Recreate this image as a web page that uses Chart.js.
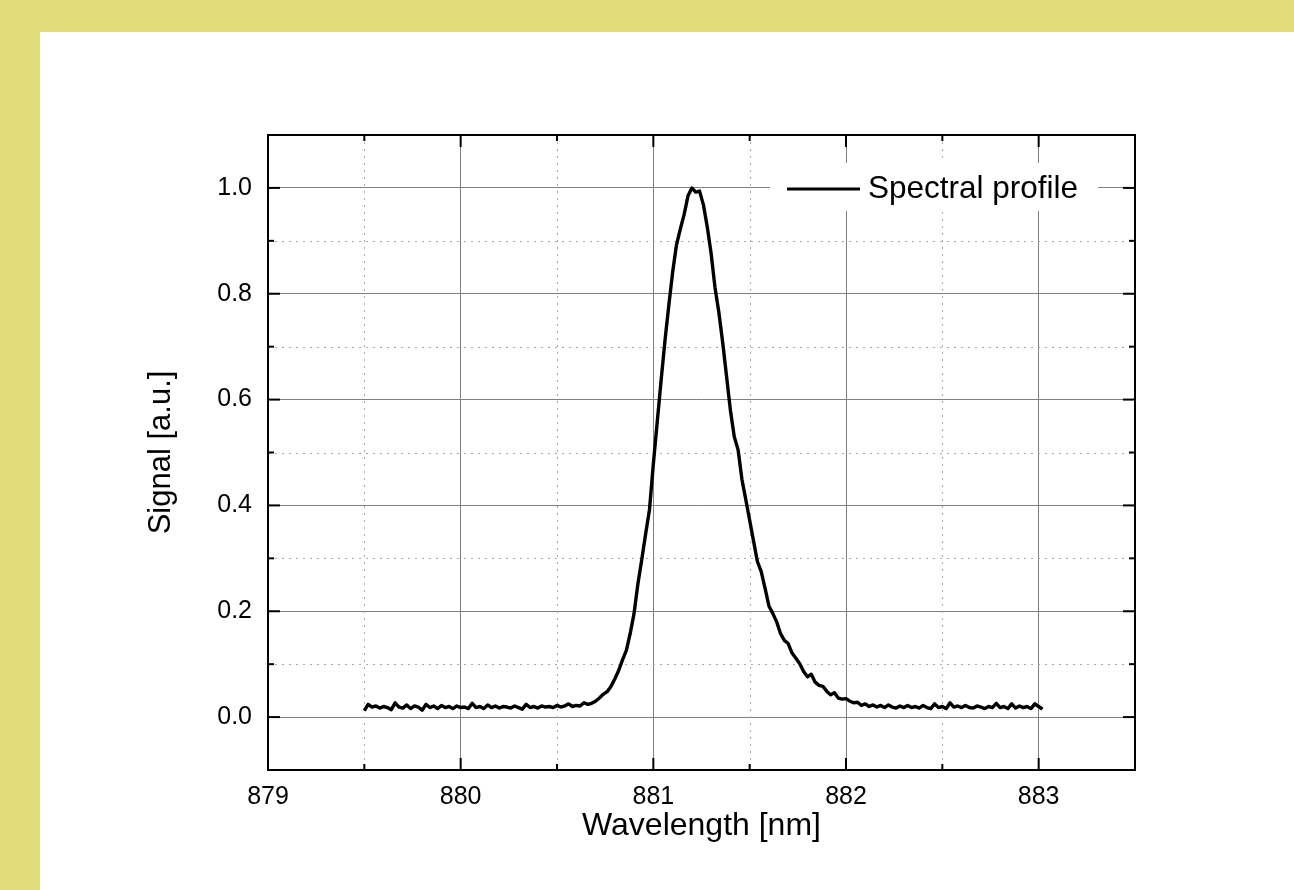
<!DOCTYPE html>
<html>
<head>
<meta charset="utf-8">
<script src="https://cdn.jsdelivr.net/npm/chart.js@4.4.1/dist/chart.umd.min.js"></script>
<style>
  html, body { margin: 0; padding: 0; }
  body { width: 1294px; height: 890px; background: #e3dc7b; position: relative; overflow: hidden; }
  #paper { position: absolute; left: 40px; top: 32px; right: 0; bottom: 0; background: #fff; }
  #chart { position: absolute; left: 0; top: 0; }
</style>
</head>
<body>
<div id="paper"></div>
<canvas id="chart" width="1294" height="890"></canvas>
<script>
const wavelength = [
  879.50, 879.52, 879.54, 879.56, 879.58, 879.60, 879.62, 879.64, 879.66, 879.68,
  879.70, 879.72, 879.74, 879.76, 879.78, 879.80, 879.82, 879.84, 879.86, 879.88,
  879.90, 879.92, 879.94, 879.96, 879.98, 880.00, 880.02, 880.04, 880.06, 880.08,
  880.10, 880.12, 880.14, 880.16, 880.18, 880.20, 880.22, 880.24, 880.26, 880.28,
  880.30, 880.32, 880.34, 880.36, 880.38, 880.40, 880.42, 880.44, 880.46, 880.48,
  880.50, 880.52, 880.54, 880.56, 880.58, 880.60, 880.62, 880.64, 880.66, 880.68,
  880.70, 880.72, 880.74, 880.76, 880.78, 880.80, 880.82, 880.84, 880.86, 880.88,
  880.90, 880.92, 880.94, 880.96, 880.98, 881.00, 881.02, 881.04, 881.06, 881.08,
  881.10, 881.12, 881.14, 881.16, 881.18, 881.20, 881.22, 881.24, 881.26, 881.28,
  881.30, 881.32, 881.34, 881.36, 881.38, 881.40, 881.42, 881.44, 881.46, 881.48,
  881.50, 881.52, 881.54, 881.56, 881.58, 881.60, 881.62, 881.64, 881.66, 881.68,
  881.70, 881.72, 881.74, 881.76, 881.78, 881.80, 881.82, 881.84, 881.86, 881.88,
  881.90, 881.92, 881.94, 881.96, 881.98, 882.00, 882.02, 882.04, 882.06, 882.08,
  882.10, 882.12, 882.14, 882.16, 882.18, 882.20, 882.22, 882.24, 882.26, 882.28,
  882.30, 882.32, 882.34, 882.36, 882.38, 882.40, 882.42, 882.44, 882.46, 882.48,
  882.50, 882.52, 882.54, 882.56, 882.58, 882.60, 882.62, 882.64, 882.66, 882.68,
  882.70, 882.72, 882.74, 882.76, 882.78, 882.80, 882.82, 882.84, 882.86, 882.88,
  882.90, 882.92, 882.94, 882.96, 882.98, 883.00, 883.02
];
const signal = [
  0.012, 0.024, 0.019, 0.021, 0.017, 0.020, 0.018, 0.014, 0.027, 0.019,
  0.017, 0.023, 0.016, 0.021, 0.019, 0.013, 0.024, 0.018, 0.021, 0.016,
  0.022, 0.018, 0.020, 0.016, 0.021, 0.018, 0.019, 0.016, 0.026, 0.018,
  0.020, 0.016, 0.023, 0.018, 0.021, 0.017, 0.020, 0.019, 0.017, 0.021,
  0.018, 0.015, 0.024, 0.018, 0.020, 0.017, 0.021, 0.019, 0.020, 0.018,
  0.022, 0.019, 0.021, 0.025, 0.020, 0.022, 0.021, 0.027, 0.024, 0.026,
  0.030, 0.036, 0.043, 0.048, 0.058, 0.072, 0.088, 0.108, 0.126, 0.158,
  0.196, 0.252, 0.298, 0.346, 0.392, 0.478, 0.557, 0.635, 0.710, 0.777,
  0.840, 0.892, 0.922, 0.950, 0.985, 1.000, 0.992, 0.994, 0.968, 0.926,
  0.876, 0.812, 0.765, 0.708, 0.644, 0.580, 0.530, 0.505, 0.449, 0.411,
  0.372, 0.333, 0.294, 0.275, 0.243, 0.210, 0.196, 0.180, 0.158, 0.145,
  0.139, 0.121, 0.111, 0.101, 0.086, 0.076, 0.081, 0.066, 0.060, 0.058,
  0.049, 0.042, 0.046, 0.036, 0.034, 0.035, 0.030, 0.027, 0.028, 0.022,
  0.025, 0.020, 0.023, 0.019, 0.022, 0.018, 0.023, 0.019, 0.017, 0.021,
  0.018, 0.022, 0.018, 0.020, 0.017, 0.022, 0.018, 0.016, 0.025, 0.018,
  0.020, 0.016, 0.027, 0.019, 0.021, 0.018, 0.022, 0.018, 0.017, 0.021,
  0.019, 0.016, 0.020, 0.018, 0.026, 0.018, 0.020, 0.016, 0.025, 0.017,
  0.021, 0.018, 0.020, 0.016, 0.025, 0.020, 0.015
];

const xMajor = [879, 880, 881, 882, 883];
const xMinor = [879.5, 880.5, 881.5, 882.5];
const yMajor = [0, 0.2, 0.4, 0.6, 0.8, 1.0];
const yMinor = [0.1, 0.3, 0.5, 0.7, 0.9];

Chart.defaults.font.family = '"Liberation Sans", Arial, sans-serif';
Chart.defaults.color = '#000';

const frame = {
  id: 'frame',
  beforeDatasetsDraw(chart) {
    const {ctx, chartArea: a, scales: {x, y}} = chart;
    ctx.save();
    ctx.strokeStyle = '#a8a8a8';
    ctx.lineWidth = 1;
    ctx.setLineDash([2, 5]);
    xMinor.forEach(v => {
      const px = Math.round(x.getPixelForValue(v)) + 0.5;
      ctx.beginPath(); ctx.moveTo(px, a.top); ctx.lineTo(px, a.bottom); ctx.stroke();
    });
    yMinor.forEach(v => {
      const py = Math.round(y.getPixelForValue(v)) + 0.5;
      ctx.beginPath(); ctx.moveTo(a.left, py); ctx.lineTo(a.right, py); ctx.stroke();
    });
    ctx.restore();
  },
  afterDraw(chart) {
    const {ctx, chartArea: a, scales: {x, y}} = chart;
    ctx.save();

    // legend
    const ly = a.top + 54;
    ctx.fillStyle = '#fff';
    ctx.fillRect(a.right - 365, a.top + 28, 328, 48);
    ctx.strokeStyle = '#000';
    ctx.lineWidth = 3;
    ctx.beginPath(); ctx.moveTo(a.right - 348, ly); ctx.lineTo(a.right - 275, ly); ctx.stroke();
    ctx.fillStyle = '#000';
    ctx.font = '31.5px "Liberation Sans", Arial, sans-serif';
    ctx.textBaseline = 'middle';
    ctx.fillText(chart.data.datasets[0].label, a.right - 267, ly);

    // frame
    ctx.lineWidth = 2;
    ctx.strokeRect(a.left, a.top, a.right - a.left, a.bottom - a.top);

    // inward ticks
    const tick = (x1, y1, x2, y2) => { ctx.beginPath(); ctx.moveTo(x1, y1); ctx.lineTo(x2, y2); ctx.stroke(); };
    xMajor.forEach(v => { const p = x.getPixelForValue(v); tick(p, a.bottom, p, a.bottom - 12); tick(p, a.top, p, a.top + 12); });
    xMinor.forEach(v => { const p = x.getPixelForValue(v); tick(p, a.bottom, p, a.bottom - 6); tick(p, a.top, p, a.top + 6); });
    yMajor.forEach(v => { const p = y.getPixelForValue(v); tick(a.left, p, a.left + 12, p); tick(a.right, p, a.right - 12, p); });
    yMinor.forEach(v => { const p = y.getPixelForValue(v); tick(a.left, p, a.left + 6, p); tick(a.right, p, a.right - 6, p); });
    ctx.restore();
  }
};

const ctx = document.getElementById('chart').getContext('2d');
const chart = new Chart(ctx, {
  type: 'line',
  data: {
    datasets: [{
      label: 'Spectral profile',
      data: wavelength.map((w, i) => ({x: w, y: signal[i]})),
      borderColor: '#000',
      borderWidth: 3.4,
      pointRadius: 0,
      tension: 0,
      borderJoinStyle: 'round',
      fill: false
    }]
  },
  options: {
    responsive: false,
    animation: false,
    layout: { padding: { left: 0, top: 135, right: 159, bottom: 0 } },
    plugins: { legend: { display: false }, tooltip: { enabled: false } },
    scales: {
      x: {
        type: 'linear',
        min: 879,
        max: 883.5,
        afterFit: s => { s.height = 120; },
        afterBuildTicks: s => { s.ticks = xMajor.map(v => ({value: v})); },
        ticks: {
          padding: 12,
          font: { size: 25 },
          callback: v => String(v)
        },
        grid: { drawTicks: false, color: '#7f7f7f', lineWidth: 1 },
        border: { display: false },
        title: {
          display: true,
          text: 'Wavelength [nm]',
          font: { size: 32 },
          padding: { top: 0, bottom: 45 }
        }
      },
      y: {
        min: -0.1,
        max: 1.1,
        afterFit: s => { s.width = 268; },
        afterBuildTicks: s => { s.ticks = yMajor.map(v => ({value: v})); },
        ticks: {
          padding: 16,
          font: { size: 25 },
          callback: v => v.toFixed(1)
        },
        grid: { drawTicks: false, color: '#7f7f7f', lineWidth: 1 },
        border: { display: false },
        title: {
          display: true,
          text: 'Signal [a.u.]',
          font: { size: 31 },
          padding: { top: 143, bottom: 0 }
        }
      }
    }
  },
  plugins: [frame]
});
</script>
</body>
</html>
